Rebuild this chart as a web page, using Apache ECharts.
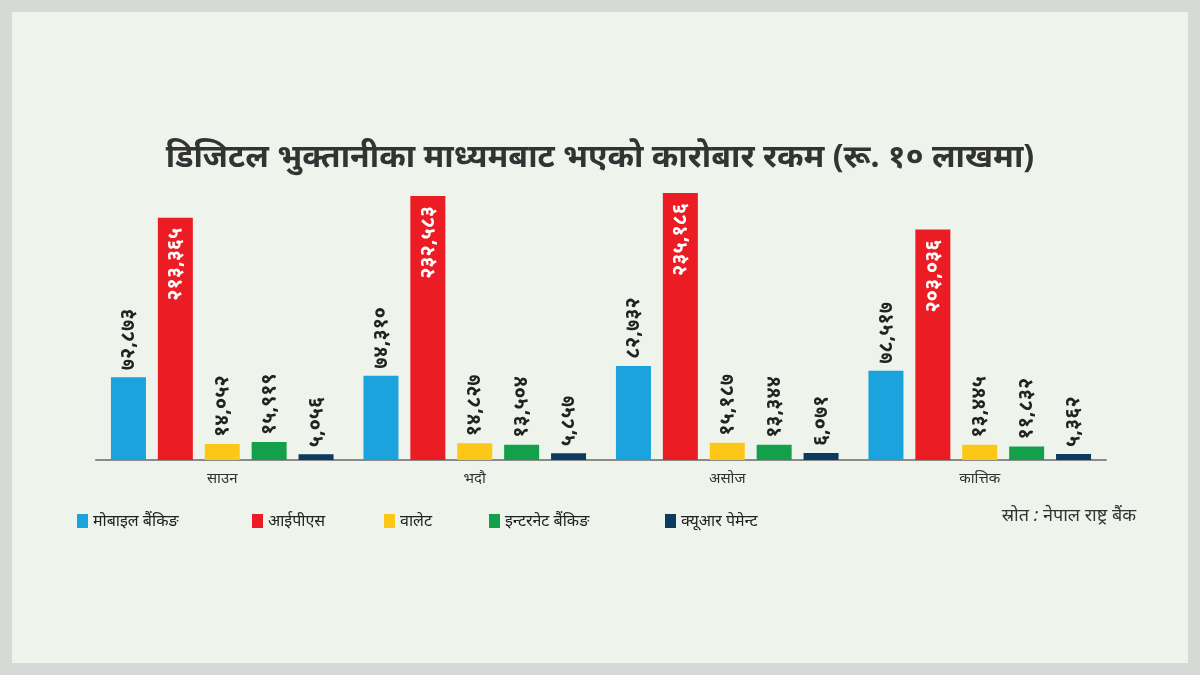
<!DOCTYPE html>
<html><head><meta charset="utf-8">
<script src="https://cdn.jsdelivr.net/npm/echarts@6/dist/echarts.min.js"></script>
<style>
html,body{margin:0;padding:0;background:#d7d9d7;}
#frame{position:absolute;left:12px;top:12px;width:1176px;height:651px;background:#eef4ec;}
#c{position:absolute;left:0;top:0;width:1200px;height:675px;}
</style></head>
<body><div id="frame"></div><div id="c"></div>
<script>
const title = 'डिजिटल भुक्तानीका माध्यमबाट भएको कारोबार रकम (रू. १० लाखमा)';
const source = 'स्रोत : नेपाल राष्ट्र बैंक';
const categories = ['साउन', 'भदौ', 'असोज', 'कात्तिक'];
const seriesNames = ['मोबाइल बैंकिङ', 'आईपीएस', 'वालेट', 'इन्टरनेट बैंकिङ', 'क्यूआर पेमेन्ट'];
const mobileBanking = [72873, 74310, 82732, 78517];
const ips = [213365, 232583, 235186, 203036];
const wallet = [14052, 14827, 15187, 13445];
const internetBanking = [15919, 13504, 13344, 11832];
const qrPayment = [5056, 5857, 6071, 5362];
const colors = ['#1ba3dd', '#ec1c24', '#fcc717', '#14a04b', '#0c3b5f'];

const devDigits = '०१२३४५६७८९';
function toDev(v){
  const s = v.toLocaleString('en-US');
  return s.replace(/[0-9]/g, d => devDigits[+d]);
}
const FONT = '"Noto Sans", "Noto Sans CJK SC", sans-serif';
const allData = [mobileBanking, ips, wallet, internetBanking, qrPayment];
const series = allData.map((d, i) => {
  const inside = i === 1;
  return {
    name: seriesNames[i], type: 'bar', data: d,
    barWidth: 35, barGap: '34%',
    itemStyle: {color: colors[i]},
    label: {
      show: true,
      position: inside ? 'insideTop' : 'top',
      rotate: 90,
      align: inside ? 'right' : 'left',
      verticalAlign: 'middle',
      distance: inside ? 10 : 7,
      color: inside ? '#ffffff' : '#222222',
      fontSize: 20, fontWeight: 'bold', fontFamily: FONT,
      formatter: p => toDev(p.value)
    }
  };
});
const legendLefts = [72, 247, 379, 484, 660];
const legends = seriesNames.map((n, i) => ({
  left: legendLefts[i], top: 508, itemWidth: 11, itemHeight: 14,
  icon: 'rect', data: [n], selectedMode: false,
  textStyle: {fontSize: 16, color: '#222222', fontFamily: FONT}
}));
const chart = echarts.init(document.getElementById('c'));
chart.setOption({
  animation: false,
  backgroundColor: 'transparent',
  color: colors,
  title: {text: title, left: 'center', top: 137,
    textStyle: {fontSize: 32, fontWeight: 'bold', color: '#333333', fontFamily: FONT}},
  legend: legends,
  graphic: [{type: 'text', right: 64, top: 507,
    style: {text: source, fontSize: 18, fontStyle: 'italic', fill: '#333333', fontFamily: FONT}}],
  grid: {left: 96, right: 94, top: 193, bottom: 215, containLabel: false},
  xAxis: {type: 'category', data: categories,
    axisLine: {lineStyle: {color: '#8a8a8a', width: 2}},
    axisTick: {show: false},
    axisLabel: {fontSize: 15, color: '#333333', margin: 11, fontFamily: FONT}},
  yAxis: {type: 'value', min: 0, max: 'dataMax', show: false, splitLine: {show: false}},
  series: series
});
</script></body></html>
